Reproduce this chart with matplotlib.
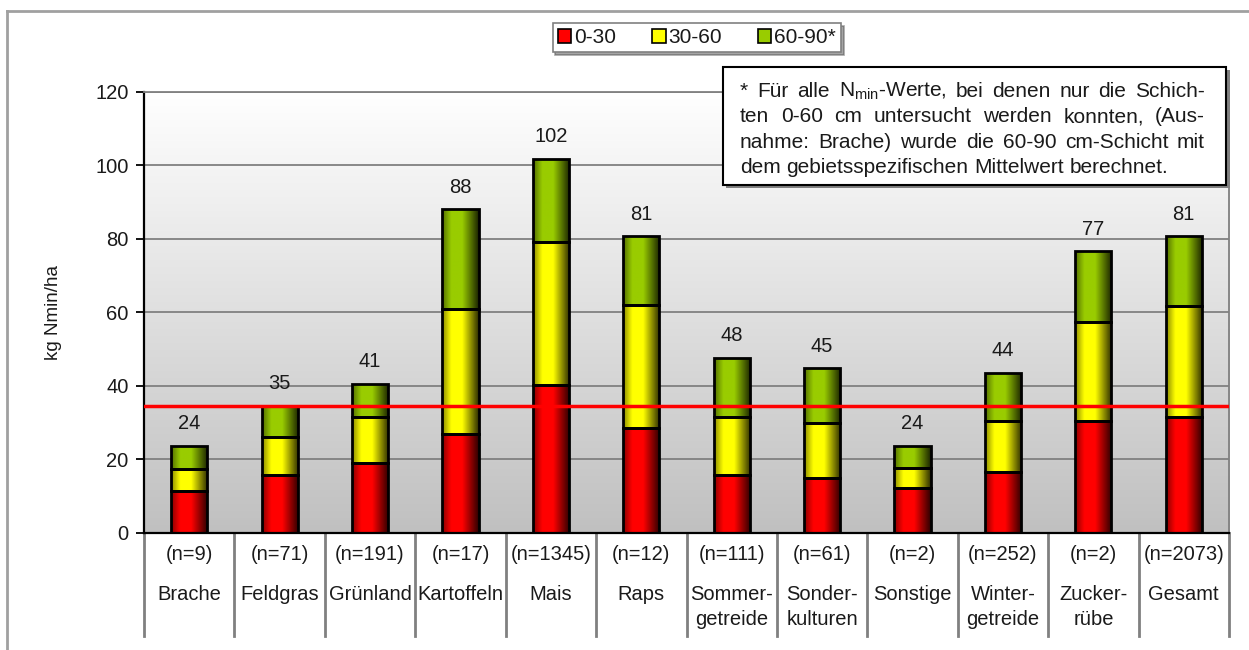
import numpy as np
import matplotlib
matplotlib.use("Agg")
import matplotlib.pyplot as plt
from matplotlib.patches import Patch, Rectangle
from matplotlib.lines import Line2D
from matplotlib.colors import LinearSegmentedColormap, to_rgb
import matplotlib.transforms as mtransforms

plt.rcParams['font.family'] = ['Liberation Sans', 'DejaVu Sans']
plt.rcParams['mathtext.default'] = 'regular'

# --- data -------------------------------------------------------------
categories = ['Brache', 'Feldgras', 'Grünland', 'Kartoffeln', 'Mais', 'Raps',
              'Sommer-\ngetreide', 'Sonder-\nkulturen', 'Sonstige',
              'Winter-\ngetreide', 'Zucker-\nrübe', 'Gesamt']
n_counts = [9, 71, 191, 17, 1345, 12, 111, 61, 2, 252, 2, 2073]

layer_0_30 = [11.5, 15.8, 18.9, 26.9, 40.1, 28.5, 15.8, 15.0, 12.2, 16.6, 30.5, 31.5]
layer_30_60 = [6.0, 10.4, 12.7, 34.0, 39.1, 33.5, 15.8, 14.8, 5.4, 13.9, 26.9, 30.2]
layer_60_90 = [6.2, 8.4, 9.0, 27.1, 22.5, 18.6, 16.0, 15.0, 6.1, 13.1, 19.2, 18.9]

layer_names = ['0-30', '30-60', '60-90*']
layer_colors = ['#ff0000', '#ffff00', '#99cc00']
threshold = 34.5

note_lines = [
    '* Für alle $N_{min}$-Werte, bei denen nur die Schich-',
    'ten 0-60 cm untersucht werden konnten, (Aus-',
    'nahme: Brache) wurde die 60-90 cm-Schicht mit',
    'dem gebietsspezifischen Mittelwert berechnet.',
]

# --- figure -----------------------------------------------------------
W, H = 1249, 650
fig = plt.figure(figsize=(W / 100, H / 100), dpi=100)
fig.patch.set_facecolor('white')


def fx(px):
    return px / W


def fy(py):
    return 1 - py / H


ax = fig.add_axes([fx(144), fy(533), fx(1229) - fx(144), fy(91.5) - fy(533)])
x = np.arange(len(categories))
ax.set_xlim(-0.5, len(categories) - 0.5)
ax.set_ylim(0, 120)

# background gradient white -> grey
grad = np.linspace(0, 1, 256).reshape(-1, 1)
bg_cmap = LinearSegmentedColormap.from_list('bg', ['#c0c0c0', '#ffffff'])
ax.imshow(grad, cmap=bg_cmap, extent=[-0.5, len(categories) - 0.5, 0, 120],
          origin='lower', aspect='auto', zorder=0)

ax.set_yticks(np.arange(0, 121, 20))
ax.yaxis.grid(True, color='#808080', lw=1.3, zorder=1)
ax.set_axisbelow(True)
ax.set_xticks([])
ax.tick_params(axis='y', direction='out', length=6, width=1.3, color='black',
               labelsize=14.5, labelcolor='#1a1a1a', pad=5)
ax.spines['left'].set_color('black')
ax.spines['left'].set_linewidth(1.6)
ax.spines['bottom'].set_color('black')
ax.spines['bottom'].set_linewidth(1.6)
ax.spines['top'].set_color('#808080')
ax.spines['top'].set_linewidth(1.3)
ax.spines['right'].set_color('#808080')
ax.spines['right'].set_linewidth(1.3)
ax.set_ylabel('kg Nmin/ha', fontsize=13.5, labelpad=24, color='#1a1a1a')

# stacked bars with a horizontal shading
bar_w = 0.4
t = np.linspace(0, 1, 64)
shade = np.interp(t, [0, 0.25, 0.55, 1.0], [0.55, 1.0, 1.0, 0.18])
bottom = np.zeros(len(categories))
for vals, col in zip([layer_0_30, layer_30_60, layer_60_90], layer_colors):
    bars = ax.bar(x, vals, bar_w, bottom=bottom, color=col, edgecolor='black',
                  linewidth=2.0, zorder=3)
    rgb = np.array(to_rgb(col))
    img = (shade[:, None] * rgb[None, :])[None, :, :]
    for p in bars.patches:
        bx, by, bw, bh = p.get_x(), p.get_y(), p.get_width(), p.get_height()
        im = ax.imshow(img, extent=[bx, bx + bw, by, by + bh], aspect='auto',
                       zorder=2.5, interpolation='bilinear')
        im.set_clip_path(p)
        p.set_facecolor('none')
    bottom += np.array(vals)

totals = bottom
for xi, tot in zip(x, totals):
    ax.annotate(f'{tot:.0f}', (xi, tot), xytext=(0, 12), textcoords='offset points',
                ha='center', va='baseline', fontsize=14.5, color='#1a1a1a', zorder=5)

ax.axhline(threshold, color='#ff0000', lw=2.5, zorder=4)

# category table below the axis
trans = mtransforms.blended_transform_factory(ax.transData, ax.transAxes)
ax_h = 533 - 91.5
y_low = -(636 - 533) / ax_h
for b in np.arange(-0.5, len(categories), 1.0):
    ax.add_line(Line2D([b, b], [0, y_low], transform=trans, color='#808080',
                       lw=2, clip_on=False))
for xi, n, cat in zip(x, n_counts, categories):
    ax.text(xi, -(554 - 533) / ax_h, f'(n={n})', transform=trans, ha='center',
            va='center', fontsize=14.5, color='#1a1a1a')
    ax.text(xi, -(585 - 533) / ax_h, cat, transform=trans, ha='center',
            va='top', fontsize=14.5, color='#1a1a1a', linespacing=1.4)

# outer frame
fig.add_artist(Line2D([fx(7), fx(7)], [fy(11), 0], color='#a0a0a0', lw=2))
fig.add_artist(Line2D([fx(7), 1], [fy(11), fy(11)], color='#a0a0a0', lw=2))

# legend
handles = [Patch(facecolor=c, edgecolor='black', lw=1.2) for c in layer_colors]
leg = fig.legend(handles, layer_names, loc='center', ncol=3,
                 bbox_to_anchor=(fx(697), fy(37.5)), fontsize=15,
                 handlelength=0.65, handleheight=0.65, handletextpad=0.15,
                 columnspacing=1.7, borderpad=0.25, fancybox=False,
                 shadow=True, framealpha=1)
leg.get_frame().set_edgecolor('#808080')
leg.get_frame().set_linewidth(1.2)
for txt in leg.get_texts():
    txt.set_color('#1a1a1a')

# footnote box with justified text
fig.add_artist(Rectangle((fx(726), fy(188)), fx(1230) - fx(726), fy(70) - fy(188),
                         facecolor='#808080', edgecolor='none', zorder=6))
fig.add_artist(Rectangle((fx(723), fy(185)), fx(1226) - fx(723), fy(67) - fy(185),
                         facecolor='white', edgecolor='black', lw=1.5, zorder=7))
renderer = fig.canvas.get_renderer()
left_px, right_px = 740, 1205
baselines = [96.7, 122.2, 147.5, 172.7]
probe = fig.text(0, 0, 'a a', fontsize=15)
probe2 = fig.text(0, 0, 'aa', fontsize=15)
space_px = probe.get_window_extent(renderer).width - probe2.get_window_extent(renderer).width
probe.remove()
probe2.remove()
for i, line in enumerate(note_lines):
    words = line.split(' ')
    txts = [fig.text(0, fy(baselines[i]), w, fontsize=15, va='baseline',
                     color='#1a1a1a', zorder=8) for w in words]
    widths = [tx.get_window_extent(renderer).width for tx in txts]
    if i < len(note_lines) - 1:
        gap = (right_px - left_px - sum(widths)) / (len(words) - 1)
    else:
        gap = space_px
    pos = left_px
    for tx, w in zip(txts, widths):
        tx.set_x(fx(pos))
        pos += w + gap

fig.savefig('out.png', dpi=100)
